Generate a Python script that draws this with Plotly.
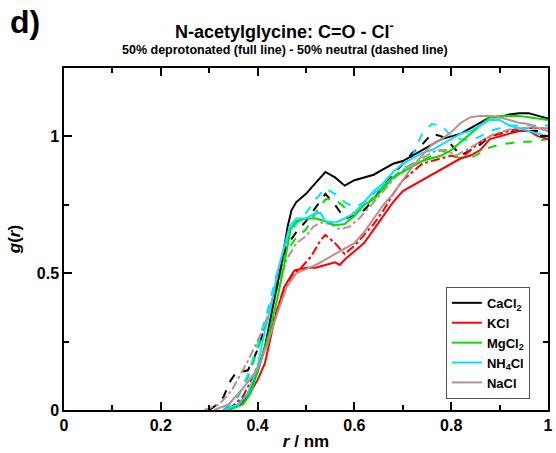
import plotly.graph_objects as go

# g(r) values (r in nm); full = deprotonated, _n = neutral (dashed)
r_ca = [0.33, 0.36, 0.38, 0.40, 0.415, 0.435, 0.45, 0.462, 0.47, 0.48, 0.50, 0.52, 0.54, 0.56, 0.58,
        0.60, 0.62, 0.64, 0.66, 0.68, 0.70, 0.72, 0.74, 0.76, 0.78, 0.80, 0.82, 0.84, 0.86, 0.88,
        0.90, 0.92, 0.94, 0.96, 0.98, 1.00]
g_ca = [0.0, 0.02, 0.06, 0.14, 0.23, 0.41, 0.54, 0.67, 0.73, 0.76, 0.79, 0.83, 0.87, 0.85, 0.82,
        0.84, 0.85, 0.86, 0.88, 0.90, 0.91, 0.93, 0.95, 0.97, 0.99, 1.00, 1.01, 1.03, 1.05, 1.07,
        1.07, 1.08, 1.085, 1.085, 1.075, 1.065]
r_ca_n = [0.30, 0.325, 0.345, 0.355, 0.38, 0.40, 0.42, 0.44, 0.46, 0.48, 0.50, 0.52, 0.54, 0.56,
          0.58, 0.60, 0.62, 0.64, 0.66, 0.68, 0.70, 0.72, 0.74, 0.76, 0.78, 0.80, 0.82, 0.84, 0.86,
          0.88, 0.90, 0.92, 0.94, 0.96, 0.98, 1.00]
g_ca_n = [0.0, 0.03, 0.11, 0.135, 0.145, 0.22, 0.33, 0.46, 0.60, 0.65, 0.69, 0.74, 0.79, 0.75,
          0.70, 0.71, 0.73, 0.77, 0.82, 0.86, 0.90, 0.94, 0.97, 1.01, 1.00, 0.97, 0.93, 0.95, 0.97,
          1.00, 1.01, 1.015, 1.02, 1.02, 1.02, 1.02]

r_k = [0.34, 0.365, 0.38, 0.40, 0.415, 0.435, 0.455, 0.476, 0.50, 0.52, 0.54, 0.56, 0.57, 0.58,
       0.60, 0.62, 0.64, 0.66, 0.68, 0.70, 0.72, 0.74, 0.76, 0.78, 0.80, 0.82, 0.84, 0.86, 0.88,
       0.90, 0.92, 0.94, 0.96, 0.98, 1.00]
g_k = [0.0, 0.02, 0.05, 0.11, 0.17, 0.33, 0.45, 0.51, 0.52, 0.52, 0.53, 0.54, 0.53, 0.55, 0.58,
       0.61, 0.66, 0.71, 0.76, 0.80, 0.82, 0.84, 0.86, 0.88, 0.90, 0.92, 0.93, 0.95, 0.99, 1.00,
       1.01, 1.02, 1.02, 1.00, 0.99]
r_k_n = [0.34, 0.37, 0.39, 0.41, 0.43, 0.45, 0.47, 0.49, 0.51, 0.53, 0.54, 0.56, 0.58, 0.60, 0.62,
         0.64, 0.66, 0.68, 0.70, 0.72, 0.74, 0.76, 0.78, 0.80, 0.82, 0.84, 0.86, 0.88, 0.90, 0.92,
         0.94, 0.96, 0.98, 1.00]
g_k_n = [0.0, 0.05, 0.12, 0.20, 0.31, 0.42, 0.49, 0.52, 0.56, 0.62, 0.64, 0.61, 0.57, 0.60, 0.64,
         0.68, 0.73, 0.79, 0.84, 0.87, 0.90, 0.91, 0.92, 0.93, 0.92, 0.95, 0.98, 1.00, 1.01, 1.02,
         1.03, 1.03, 1.03, 1.03]

r_mg = [0.34, 0.37, 0.385, 0.40, 0.425, 0.44, 0.455, 0.468, 0.48, 0.50, 0.52, 0.54, 0.56, 0.58,
        0.60, 0.62, 0.64, 0.66, 0.68, 0.70, 0.72, 0.74, 0.76, 0.78, 0.80, 0.82, 0.84, 0.86, 0.88,
        0.90, 0.92, 0.94, 0.96, 0.98, 1.00]
g_mg = [0.0, 0.02, 0.06, 0.14, 0.29, 0.40, 0.53, 0.66, 0.69, 0.70, 0.70, 0.69, 0.675, 0.68, 0.71,
        0.75, 0.77, 0.81, 0.85, 0.87, 0.89, 0.91, 0.92, 0.93, 0.95, 0.98, 1.01, 1.04, 1.07, 1.075,
        1.075, 1.075, 1.07, 1.065, 1.06]
r_mg_n = [0.33, 0.36, 0.38, 0.40, 0.42, 0.44, 0.46, 0.48, 0.50, 0.52, 0.54, 0.56, 0.58, 0.60, 0.62,
          0.64, 0.66, 0.68, 0.70, 0.72, 0.74, 0.76, 0.78, 0.80, 0.82, 0.84, 0.86, 0.88, 0.90, 0.92,
          0.94, 0.96, 0.98, 1.00]
g_mg_n = [0.0, 0.05, 0.12, 0.22, 0.33, 0.46, 0.58, 0.63, 0.66, 0.72, 0.77, 0.77, 0.74, 0.72, 0.74,
          0.78, 0.82, 0.85, 0.88, 0.90, 0.91, 0.93, 0.95, 0.93, 0.92, 0.92, 0.94, 0.96, 0.97, 0.975,
          0.98, 0.98, 0.985, 0.99]

r_nh = [0.33, 0.36, 0.38, 0.40, 0.415, 0.43, 0.442, 0.455, 0.466, 0.48, 0.50, 0.52, 0.53, 0.54,
        0.56, 0.58, 0.60, 0.62, 0.64, 0.66, 0.68, 0.70, 0.72, 0.74, 0.76, 0.78, 0.80, 0.82, 0.84,
        0.86, 0.88, 0.90, 0.92, 0.94, 0.96, 0.98, 1.00]
g_nh = [0.0, 0.02, 0.06, 0.16, 0.29, 0.40, 0.51, 0.60, 0.67, 0.70, 0.70, 0.72, 0.72, 0.69, 0.685,
        0.70, 0.72, 0.76, 0.80, 0.83, 0.87, 0.90, 0.92, 0.94, 0.95, 0.97, 0.99, 1.01, 1.02, 1.04,
        1.06, 1.06, 1.04, 1.03, 1.02, 1.01, 1.00]
r_nh_n = [0.33, 0.36, 0.38, 0.40, 0.42, 0.44, 0.46, 0.48, 0.50, 0.52, 0.54, 0.56, 0.58, 0.60, 0.62,
          0.64, 0.66, 0.68, 0.70, 0.72, 0.74, 0.76, 0.78, 0.80, 0.82, 0.84, 0.86, 0.88, 0.90, 0.92,
          0.94, 0.96, 0.98, 1.00]
g_nh_n = [0.0, 0.05, 0.13, 0.24, 0.36, 0.50, 0.62, 0.68, 0.72, 0.77, 0.81, 0.79, 0.76, 0.74, 0.76,
          0.79, 0.82, 0.85, 0.87, 0.93, 1.01, 1.045, 1.04, 1.00, 0.99, 0.985, 1.00, 1.02, 1.03, 1.04,
          1.04, 1.04, 1.04, 1.04]

r_na = [0.31, 0.34, 0.37, 0.40, 0.42, 0.44, 0.46, 0.48, 0.50, 0.52, 0.54, 0.56, 0.58, 0.60, 0.62,
        0.64, 0.66, 0.68, 0.70, 0.72, 0.74, 0.76, 0.78, 0.80, 0.82, 0.84, 0.86, 0.88, 0.90, 0.92,
        0.94, 0.96, 0.98, 1.00]
g_na = [0.0, 0.02, 0.08, 0.15, 0.24, 0.35, 0.45, 0.50, 0.515, 0.53, 0.55, 0.57, 0.59, 0.61, 0.65,
        0.70, 0.75, 0.79, 0.84, 0.89, 0.93, 0.97, 0.99, 1.015, 1.05, 1.07, 1.075, 1.075, 1.07,
        1.06, 1.05, 1.045, 1.03, 1.02]
r_na_n = [0.29, 0.32, 0.346, 0.38, 0.41, 0.44, 0.46, 0.48, 0.50, 0.515, 0.53, 0.55, 0.57, 0.59,
          0.61, 0.63, 0.65, 0.67, 0.69, 0.71, 0.73, 0.75, 0.77, 0.79, 0.81, 0.83, 0.85, 0.87, 0.89,
          0.91, 0.93, 0.95, 0.97, 1.00]
g_na_n = [0.0, 0.02, 0.07, 0.18, 0.29, 0.44, 0.55, 0.61, 0.635, 0.67, 0.685, 0.68, 0.66, 0.67,
          0.70, 0.74, 0.78, 0.82, 0.86, 0.89, 0.91, 0.93, 0.95, 0.95, 0.93, 0.95, 0.97, 0.99, 1.01,
          1.02, 1.03, 1.03, 1.03, 1.03]

salts = [
    ("CaCl<sub>2</sub>", "black", "dash", r_ca, g_ca, r_ca_n, g_ca_n),
    ("KCl", "#ff0000", "dashdot", r_k, g_k, r_k_n, g_k_n),
    ("MgCl<sub>2</sub>", "#00e000", "dash", r_mg, g_mg, r_mg_n, g_mg_n),
    ("NH<sub>4</sub>Cl", "#00e5ff", "dash", r_nh, g_nh, r_nh_n, g_nh_n),
    ("NaCl", "#bc8f8f", "dashdot", r_na, g_na, r_na_n, g_na_n),
]

fig = go.Figure()

# dashed (neutral) first, full lines on top
for name, col, dsh, rs, gs, rn, gn in salts:
    fig.add_trace(go.Scatter(x=rn, y=gn, mode="lines", showlegend=False,
                             line=dict(color=col, width=2, dash=dsh)))
for name, col, dsh, rs, gs, rn, gn in salts:
    fig.add_trace(go.Scatter(x=rs, y=gs, mode="lines", name=name,
                             line=dict(color=col, width=2)))

fnt = "Liberation Sans, Arial, sans-serif"
ax = dict(showline=True, linecolor="black", linewidth=1.5, mirror="ticks",
          ticks="inside", ticklen=8, tickwidth=1.5, tickcolor="black",
          showgrid=False, zeroline=False,
          tickfont=dict(family=fnt, size=16, color="black", weight="bold"))

fig.update_layout(
    width=556, height=453,
    margin=dict(l=64, r=3, t=68, b=43),
    paper_bgcolor="white", plot_bgcolor="white",
    font=dict(family=fnt, color="black"),
    xaxis=dict(ax, range=[0, 1], dtick=0.2, tickformat="~g",
               minor=dict(dtick=0.1, ticks="inside", ticklen=5, tickwidth=1.5, tickcolor="black"),
               title=dict(text="<b><i>r</i> / nm</b>", font=dict(size=17), standoff=2)),
    yaxis=dict(ax, range=[0, 1.25], tickvals=[0, 0.5, 1], ticktext=["0", "0.5", "1"],
               minor=dict(tickvals=[0.25, 0.75], ticks="inside", ticklen=5, tickwidth=1.5, tickcolor="black"),
               title=dict(text="<b><i>g</i>(<i>r</i>)</b>", font=dict(size=17), standoff=12)),
    legend=dict(x=0.789, y=0.36, xanchor="left", yanchor="top",
                bordercolor="#555555", borderwidth=1, bgcolor="white",
                font=dict(family=fnt, size=13, color="black", weight="bold"),
                tracegroupgap=0, itemwidth=30),
    annotations=[
        dict(text="<b>d)</b>", x=0.0, y=1.0, xref="paper", yref="paper", xanchor="left", yanchor="top",
             font=dict(size=32), showarrow=False, xshift=-56, yshift=66),
        dict(text="<b>N-acetylglycine: C=O - Cl<sup>-</sup></b>", x=0.456, y=1.0, xref="paper", yref="paper",
             xanchor="center", yanchor="middle", font=dict(size=18), showarrow=False, yshift=38),
        dict(text="<b>50% deprotonated (full line) - 50% neutral (dashed line)</b>", x=0.456, y=1.0,
             xref="paper", yref="paper", xanchor="center", yanchor="middle", font=dict(size=12.5),
             showarrow=False, yshift=18),
    ],
)

fig.write_html("out.html", config={"displayModeBar": False},
               post_script="document.body.style.margin='0';")
